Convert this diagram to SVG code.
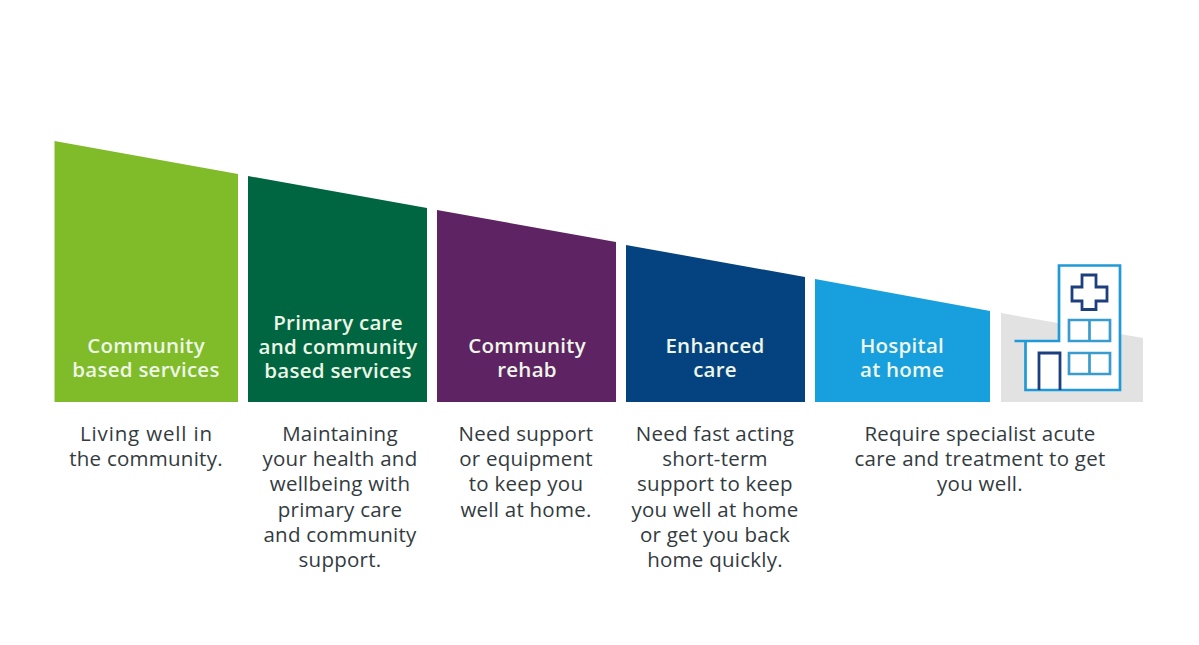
<svg xmlns="http://www.w3.org/2000/svg" width="1199" height="645" viewBox="0 0 1199 645">
<style>
.h{font:600 20.5px "Open Sans","DejaVu Sans",sans-serif;fill:#eef6e8;text-anchor:middle;letter-spacing:.25px}
.b{font:400 20.5px "Open Sans","DejaVu Sans",sans-serif;fill:#333b3f;text-anchor:middle;letter-spacing:.25px}
.l{fill:none;stroke:#1f9ad6;stroke-width:2.7}
.w{fill:none;stroke:#3a9bcf;stroke-width:2.7}
.n{fill:none;stroke:#1d3f7e;stroke-width:2.8}
</style>
<rect width="1199" height="645" fill="#fff"/>
<g id="node-community">
<polygon points="54.500,141 238,174 238,402 54.500,402" fill="#80bb29"/>
<text class="h"><tspan x="146" y="353">Community</tspan><tspan x="146" y="377">based services</tspan></text>
<text class="b"><tspan x="146.500" y="441" letter-spacing=".85">Living well in</tspan><tspan x="146" y="466">the community.</tspan></text>
</g>
<g id="node-primary">
<polygon points="248,176 427,208 427,402 248,402" fill="#006641"/>
<text class="h"><tspan x="338" y="330">Primary care</tspan><tspan x="338" y="354">and community</tspan><tspan x="338" y="378">based services</tspan></text>
<text class="b"><tspan x="340" y="441">Maintaining</tspan><tspan x="340" y="466">your health and</tspan><tspan x="340" y="491">wellbeing with</tspan><tspan x="340" y="517">primary care</tspan><tspan x="340" y="542">and community</tspan><tspan x="340" y="567">support.</tspan></text>
</g>
<g id="node-rehab">
<polygon points="437,210 616,242 616,402 437,402" fill="#5e2363"/>
<text class="h"><tspan x="527" y="353">Community</tspan><tspan x="527" y="377">rehab</tspan></text>
<text class="b"><tspan x="526" y="441">Need support</tspan><tspan x="526" y="466">or equipment</tspan><tspan x="526" y="491">to keep you</tspan><tspan x="526" y="517">well at home.</tspan></text>
</g>
<g id="node-enhanced">
<polygon points="626,245 805,277 805,402 626,402" fill="#04437f"/>
<text class="h"><tspan x="715" y="353">Enhanced</tspan><tspan x="715" y="377">care</tspan></text>
<text class="b"><tspan x="715" y="441">Need fast acting</tspan><tspan x="715" y="466">short-term</tspan><tspan x="715" y="491">support to keep</tspan><tspan x="715" y="517">you well at home</tspan><tspan x="715" y="542">or get you back</tspan><tspan x="715" y="567">home quickly.</tspan></text>
</g>
<g id="node-hospital-at-home">
<polygon points="815,279 990,311 990,402 815,402" fill="#189fdd"/>
<text class="h"><tspan x="902" y="353">Hospital</tspan><tspan x="902" y="377">at home</tspan></text>
<text class="b"><tspan x="980" y="441">Require specialist acute</tspan><tspan x="980" y="466">care and treatment to get</tspan><tspan x="980" y="491">you well.</tspan></text>
</g>
<g id="node-hospital-icon">
<polygon points="1001,313 1143,338 1143,402 1001,402" fill="#e2e2e2"/>
<path d="M1014.500 341H1059V265.500H1120V390H1025.500V341" fill="#fff" stroke="none"/>
<path class="l" d="M1014.500 341H1059V265.500H1120V390H1025.500V341"/>
<path class="n" d="M1082 275H1096V287H1107V301H1096V309.500H1082V301H1072V287H1082Z"/>
<path class="w" d="M1069 320H1110V341H1069ZM1089.500 320V341M1069 353H1110V374H1069ZM1089.500 353V374"/>
<path class="n" d="M1039 390V353H1060V390"/>
</g>
<g id="connectors"/>
</svg>
